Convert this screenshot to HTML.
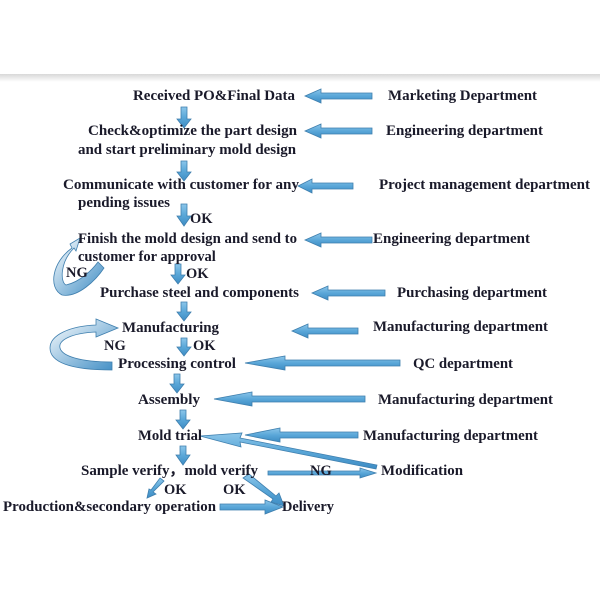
<!DOCTYPE html>
<html><head><meta charset="utf-8"><style>
html,body{margin:0;padding:0;background:#fff;width:600px;height:600px;overflow:hidden}
svg text{font-family:"Liberation Serif",serif;font-weight:bold;font-size:14.5px;fill:#1a1a2a}
</style></head><body>
<svg width="600" height="600" viewBox="0 0 600 600" xmlns="http://www.w3.org/2000/svg">
<defs>
<linearGradient id="sh" x1="0" y1="0" x2="0" y2="1"><stop offset="0" stop-color="#d8d8d8"/><stop offset="1" stop-color="#fff"/></linearGradient>
<linearGradient id="ag" x1="0" y1="0" x2="0" y2="1"><stop offset="0" stop-color="#8cc6ea"/><stop offset="0.5" stop-color="#5aa7d8"/><stop offset="1" stop-color="#3d8cc4"/></linearGradient>
<linearGradient id="cg" x1="0" y1="0" x2="1" y2="1"><stop offset="0" stop-color="#fff"/><stop offset="1" stop-color="#3d8cc4"/></linearGradient>
</defs>
<rect x="0" y="74" width="600" height="8" fill="url(#sh)"/>
<g fill="url(#ag)" stroke="#3f7fae" stroke-width="0.8">
<path d="M305 96 L321 89 L321 93 L372 93 L372 99 L321 99 L321 103 Z"/>
<path d="M305 131 L321 124 L321 128 L372 128 L372 134 L321 134 L321 138 Z"/>
<path d="M298 186 L312 179 L312 183 L353 183 L353 189 L312 189 L312 193 Z"/>
<path d="M305 240 L321 233 L321 237 L372 237 L372 243 L321 243 L321 247 Z"/>
<path d="M312 293 L328 286 L328 290 L385 290 L385 296 L328 296 L328 300 Z"/>
<path d="M292 331 L308 324 L308 328 L358 328 L358 334 L308 334 L308 338 Z"/>
<path d="M245 363 L285 356 L285 360 L400 360 L400 366 L285 366 L285 370 Z"/>
<path d="M214 399 L252 392 L252 396 L365 396 L365 402 L252 402 L252 406 Z"/>
<path d="M245 435 L280 428 L280 432 L358 432 L358 438 L280 438 L280 442 Z"/>
<path d="M181 107 L187 107 L187 119 L191 119 L184 128 L177 119 L181 119 Z"/>
<path d="M181 161 L187 161 L187 172 L191 172 L184 181 L177 172 L181 172 Z"/>
<path d="M181 204 L187 204 L187 216 L191 216 L184 226 L177 216 L181 216 Z"/>
<path d="M175 264 L181 264 L181 275 L185 275 L178 284 L171 275 L175 275 Z"/>
<path d="M181 302 L187 302 L187 312 L191 312 L184 321 L177 312 L181 312 Z"/>
<path d="M181 338 L187 338 L187 347 L191 347 L184 356 L177 347 L181 347 Z"/>
<path d="M174 374 L180 374 L180 384 L184 384 L177 393 L170 384 L174 384 Z"/>
<path d="M180 410 L186 410 L186 420 L190 420 L183 429 L176 420 L180 420 Z"/>
<path d="M180 446 L186 446 L186 455 L190 455 L183 465 L176 455 L180 455 Z"/>
<path d="M220 504 L265 504 L265 500 L283 507 L265 514 L265 510 L220 510 Z"/>
<path d="M268 471 L360 471 L360 468 L376 473 L360 478 L360 475 L268 475 Z"/>
<path d="M376 469 L240 442 L241 447 L200 436 L242 433 L240 438 L377 465 Z"/>
<path d="M243 478 L249 474 L276 496 L279 493 L284 506 L271 502 L273 499 Z"/>
<path d="M160 478 L164 481 L153 492 L156 494 L147 498 L149 489 L151 490 Z"/>
</g>
<path d="M62 295 C48 288 52 262 72 248 L70 244 L80 238 L76 251 L74 248 C60 262 60 282 66 285 C80 282 92 270 98 262 L104 268 C96 280 78 298 62 295 Z" fill="url(#cg)" stroke="#3f7fae" stroke-width="0.8"/>
<path d="M112 370 C70 370 50 362 50 348 C50 335 70 326 96 325 L96 319 L118 328 L96 337 L96 332 C72 333 58 340 60 348 C62 356 80 362 112 362 Z" fill="url(#cg)" stroke="#3f7fae" stroke-width="0.8"/>
<g>
<text x="133" y="100" textLength="162" lengthAdjust="spacingAndGlyphs">Received PO&amp;Final Data</text>
<text x="88" y="135" textLength="209" lengthAdjust="spacingAndGlyphs">Check&amp;optimize the part design</text>
<text x="78" y="154" textLength="218" lengthAdjust="spacingAndGlyphs">and start preliminary mold design</text>
<text x="63" y="189" textLength="236" lengthAdjust="spacingAndGlyphs">Communicate with customer for any</text>
<text x="78" y="207" textLength="92" lengthAdjust="spacingAndGlyphs">pending issues</text>
<text x="190" y="223">OK</text>
<text x="78" y="243" textLength="219" lengthAdjust="spacingAndGlyphs">Finish the mold design and send to</text>
<text x="78" y="261">customer for approval</text>
<text x="66" y="277">NG</text>
<text x="186" y="278">OK</text>
<text x="100" y="297" textLength="199" lengthAdjust="spacingAndGlyphs">Purchase steel and components</text>
<text x="122" y="332" textLength="97" lengthAdjust="spacingAndGlyphs">Manufacturing</text>
<text x="104" y="350">NG</text>
<text x="193" y="350">OK</text>
<text x="118" y="368" textLength="118" lengthAdjust="spacingAndGlyphs">Processing control</text>
<text x="138" y="404" textLength="62" lengthAdjust="spacingAndGlyphs">Assembly</text>
<text x="138" y="440" textLength="64" lengthAdjust="spacingAndGlyphs">Mold trial</text>
<text x="81" y="475" textLength="177" lengthAdjust="spacingAndGlyphs">Sample verify，mold verify</text>
<text x="310" y="475">NG</text>
<text x="164" y="494">OK</text>
<text x="223" y="494">OK</text>
<text x="3" y="511" textLength="213" lengthAdjust="spacingAndGlyphs">Production&amp;secondary operation</text>
<text x="282" y="511" textLength="52" lengthAdjust="spacingAndGlyphs">Delivery</text>
<text x="388" y="100" textLength="149" lengthAdjust="spacingAndGlyphs">Marketing Department</text>
<text x="386" y="135" textLength="157" lengthAdjust="spacingAndGlyphs">Engineering department</text>
<text x="379" y="189" textLength="211" lengthAdjust="spacingAndGlyphs">Project management department</text>
<text x="373" y="243" textLength="157" lengthAdjust="spacingAndGlyphs">Engineering department</text>
<text x="397" y="297" textLength="150" lengthAdjust="spacingAndGlyphs">Purchasing department</text>
<text x="373" y="331" textLength="175" lengthAdjust="spacingAndGlyphs">Manufacturing department</text>
<text x="413" y="368" textLength="100" lengthAdjust="spacingAndGlyphs">QC department</text>
<text x="378" y="404" textLength="175" lengthAdjust="spacingAndGlyphs">Manufacturing department</text>
<text x="363" y="440" textLength="175" lengthAdjust="spacingAndGlyphs">Manufacturing department</text>
<text x="381" y="475" textLength="82" lengthAdjust="spacingAndGlyphs">Modification</text>
</g>
</svg>
</body></html>
